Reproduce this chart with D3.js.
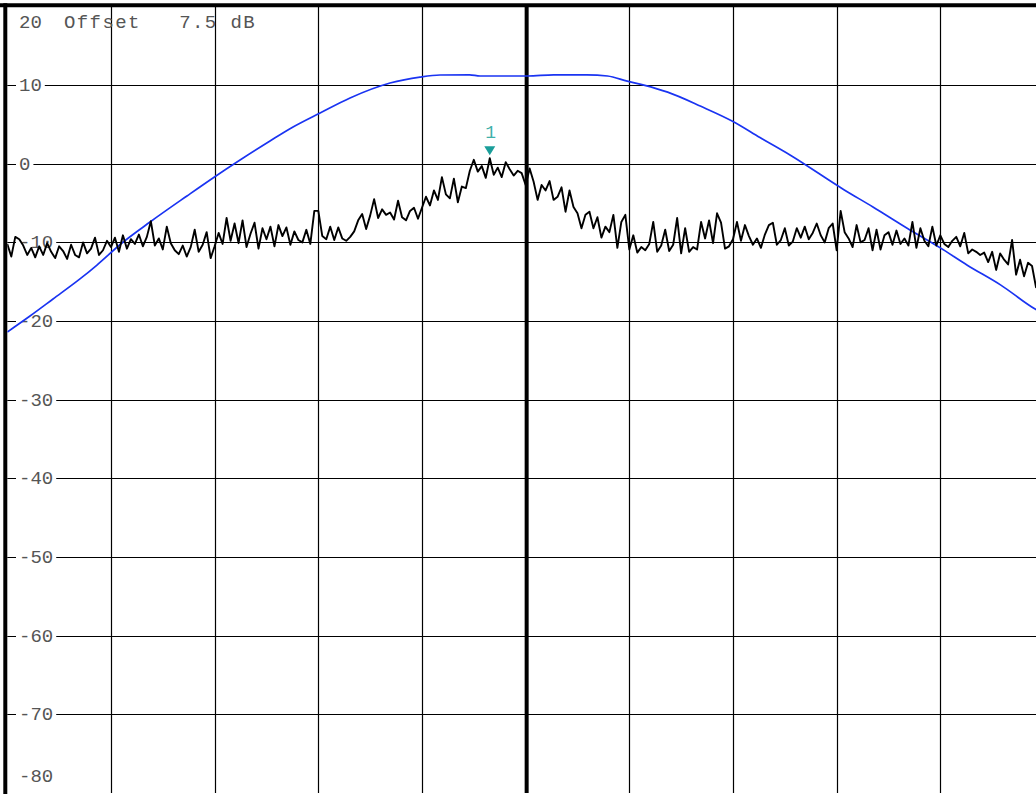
<!DOCTYPE html>
<html><head><meta charset="utf-8">
<script src="https://cdn.jsdelivr.net/npm/d3@7"></script>
<style>
body{margin:0;background:#fff;overflow:hidden}
text{font-family:"Liberation Mono","Courier New",monospace;}
</style>
</head><body><svg id="c" width="1036" height="794"></svg>
<script>
// ---------- data ----------
const refLevel = 20;
const refOffsetText = "Offset   7.5 dB";
const yGridValues = [10, 0, -10, -20, -30, -40, -50, -60, -70];
const yTickLabels = ["10", "0", "-10", "-20", "-30", "-40", "-50", "-60", "-70"];
const bottomLabel = "-80";
const xDivisions = [0, 1, 2, 3, 4, 5, 6, 7, 8, 9, 10];
const markerLabel = "1";

// blue trace (division, dB)
const blueDiv = [0, 0.219, 0.441, 0.701, 0.865, 1.106, 1.377, 1.733, 1.984, 2.245, 2.534, 2.756, 3.017, 3.306, 3.692, 3.981, 4.174, 4.46, 4.56, 5.02, 5.27, 5.59, 5.79, 5.98, 6.14, 6.37, 6.69, 7.00, 7.26, 7.55, 8.07, 8.35, 8.68, 9.00, 9.26, 9.58, 9.93, 10];
const blueDb  = [-21.39, -19.36, -17.2, -14.65, -12.88, -10.08, -7.41, -4.1, -1.81, 0.47, 2.89, 4.67, 6.45, 8.36, 10.26, 11.02, 11.28, 11.3, 11.15, 11.15, 11.3, 11.3, 11.15, 10.5, 10.0, 9.1, 7.3, 5.37, 3.33, 1.11, -3.3, -5.5, -8.2, -10.7, -12.9, -15.4, -18.6, -19.1];

// black trace: 26 sweep points per division (dB)
const pointsPerDivision = 26;
const traceDiv0 = [-10.2,-11.8,-9.3,-9.6,-10.4,-11.6,-10.7,-11.9,-10.5,-11.6,-10.1,-11.2,-12.0,-10.5,-11.1,-12.1,-10.3,-11.6,-11.9,-10.0,-11.4,-10.8,-9.4,-11.6,-11.0,-9.8];
const traceDiv1 = [-10.6,-9.4,-11.2,-9.1,-10.8,-9.6,-10.2,-9.0,-10.5,-9.3,-7.3,-10.4,-9.5,-10.9,-8.0,-10.1,-11.0,-11.5,-10.4,-11.8,-10.6,-8.4,-11.2,-10.3,-8.7,-12.0];
const traceDiv2 = [-10.5,-8.8,-10.2,-6.9,-9.8,-7.6,-10.1,-7.2,-10.6,-8.9,-7.5,-10.8,-8.2,-9.6,-8.0,-10.5,-7.8,-9.2,-8.1,-10.3,-8.6,-9.7,-10.0,-8.4,-10.2,-6.0];
const traceDiv3 = [-6.0,-9.2,-9.6,-8.0,-9.7,-8.1,-9.5,-9.8,-9.3,-8.6,-7.2,-6.4,-8.3,-6.6,-4.5,-6.9,-5.8,-6.5,-6.2,-7.1,-4.7,-6.8,-7.2,-6.0,-5.6,-7.0];
const traceDiv4 = [-5.6,-4.2,-5.3,-3.4,-4.6,-1.7,-3.9,-4.4,-1.9,-4.9,-2.9,-3.1,-0.9,0.5,-1.0,-0.3,-1.8,0.7,-1.4,-0.5,-1.7,0.2,-0.7,-1.5,-0.9,-1.2];
const traceDiv5 = [-2.7,-0.6,-2.3,-4.6,-2.7,-3.4,-2.2,-4.6,-4.2,-3.0,-6.1,-3.4,-5.5,-6.3,-8.2,-6.5,-6.1,-8.2,-6.8,-9.4,-8.0,-8.7,-6.5,-10.7,-7.4,-6.5];
const traceDiv6 = [-10.9,-9.1,-11.3,-10.6,-11.0,-10.2,-7.4,-11.2,-10.4,-8.4,-11.1,-10.3,-6.9,-11.4,-8.2,-11.2,-10.6,-10.9,-7.4,-9.5,-7.2,-10.1,-6.3,-7.5,-10.8,-10.5];
const traceDiv7 = [-9.6,-7.4,-9.8,-7.8,-9.2,-10.3,-9.5,-10.7,-9.0,-7.8,-7.5,-10.3,-9.7,-8.2,-10.4,-9.9,-8.2,-9.4,-8.0,-9.6,-8.8,-7.6,-9.1,-10.0,-8.2,-7.6];
const traceDiv8 = [-11.0,-6.0,-8.7,-9.5,-10.6,-7.8,-10.0,-9.7,-8.2,-11.0,-8.4,-10.9,-9.1,-8.7,-10.3,-8.5,-10.2,-9.5,-10.4,-7.4,-10.7,-8.2,-9.8,-10.5,-8.0,-10.4];
const traceDiv9 = [-9.1,-10.2,-10.6,-9.8,-9.3,-10.5,-8.8,-11.4,-10.9,-11.2,-11.6,-11.3,-12.5,-11.2,-13.5,-11.4,-12.2,-12.8,-9.7,-14.1,-12.2,-14.3,-12.6,-13.0,-15.7,-14.5];

// ---------- drawing ----------
const traceDb = [].concat(traceDiv0, traceDiv1, traceDiv2, traceDiv3, traceDiv4,
                          traceDiv5, traceDiv6, traceDiv7, traceDiv8, traceDiv9);
const svg = d3.select("#c");
const x = d3.scaleLinear().domain([0, 10]).range([7.3, 1044]);
const y = d3.scaleLinear().domain([-80, 20]).range([793, 6.4]);
const textColor = "#555";

svg.append("defs").append("clipPath").attr("id", "plot")
  .append("rect").attr("x", x(0)).attr("y", y(20)).attr("width", x(10) - x(0)).attr("height", y(-80) - y(20));

const grid = svg.append("g");
grid.selectAll("line.h").data(yGridValues).join("line")
  .attr("x1", x(0)).attr("x2", x(10))
  .attr("y1", d => Math.round(y(d)) + 0.5).attr("y2", d => Math.round(y(d)) + 0.5)
  .attr("stroke", "#000").attr("stroke-width", 1.2);
grid.selectAll("line.v").data(xDivisions.filter(d => d > 0 && d < 10)).join("line")
  .attr("x1", d => d === 5 ? x(d) + 1 : Math.round(x(d)) + 0.5)
  .attr("x2", d => d === 5 ? x(d) + 1 : Math.round(x(d)) + 0.5)
  .attr("y1", y(20)).attr("y2", y(-80))
  .attr("stroke", "#000").attr("stroke-width", d => d === 5 ? 4 : 1.2);
svg.append("line").attr("x1", 0).attr("x2", 1036).attr("y1", 5.3).attr("y2", 5.3)
  .attr("stroke", "#000").attr("stroke-width", 4);
svg.append("line").attr("x1", 5.3).attr("x2", 5.3).attr("y1", 3.3).attr("y2", 794)
  .attr("stroke", "#000").attr("stroke-width", 4);

// tick labels with white background
const labels = svg.append("g");
yGridValues.forEach((v, i) => {
  const g = labels.append("g");
  const bg = g.append("rect").attr("fill", "#fff");
  const t = g.append("text").attr("x", 19).attr("y", y(v) + 6)
    .attr("font-size", 19).attr("fill", textColor).text(yTickLabels[i]);
  const b = t.node().getBBox();
  bg.attr("x", 16).attr("y", y(v) - 4).attr("width", b.x + b.width - 16 + 3).attr("height", 8);
});
labels.append("text").attr("x", 19).attr("y", 782).attr("font-size", 19)
  .attr("fill", textColor).text(bottomLabel);
labels.append("text").attr("x", 19).attr("y", 28).attr("font-size", 19)
  .attr("fill", textColor).text(String(refLevel));
labels.append("text").attr("x", 64).attr("y", 28).attr("font-size", 19)
  .attr("letter-spacing", 1.4)
  .attr("fill", textColor).style("white-space", "pre").text(refOffsetText);

// traces
const plot = svg.append("g").attr("clip-path", "url(#plot)");
const blueData = blueDiv.map((d, i) => [d, blueDb[i]]);
plot.append("path").datum(blueData)
  .attr("fill", "none").attr("stroke", "#1a34f2").attr("stroke-width", 1.7)
  .attr("d", d3.line().x(d => x(d[0])).y(d => y(d[1])).curve(d3.curveMonotoneX));

const traceData = traceDb.map((v, i) => [i / pointsPerDivision, v]);
plot.append("path").datum(traceData)
  .attr("fill", "none").attr("stroke", "#000").attr("stroke-width", 1.9)
  .attr("stroke-linejoin", "round")
  .attr("d", d3.line().x(d => x(d[0])).y(d => y(d[1])));

// marker at maximum
const maxI = d3.maxIndex(traceDb);
const mx = x(maxI / pointsPerDivision), tip = y(traceDb[maxI]) - 3;
svg.append("path")
  .attr("d", `M${mx - 5.5},${tip - 9}L${mx + 5.5},${tip - 9}L${mx},${tip}Z`)
  .attr("fill", "#1a9e9a");
svg.append("text").attr("x", mx + 1).attr("y", tip - 17).attr("text-anchor", "middle")
  .attr("font-size", 18).attr("fill", "#3fb0aa").text(markerLabel);
</script>
</body></html>
